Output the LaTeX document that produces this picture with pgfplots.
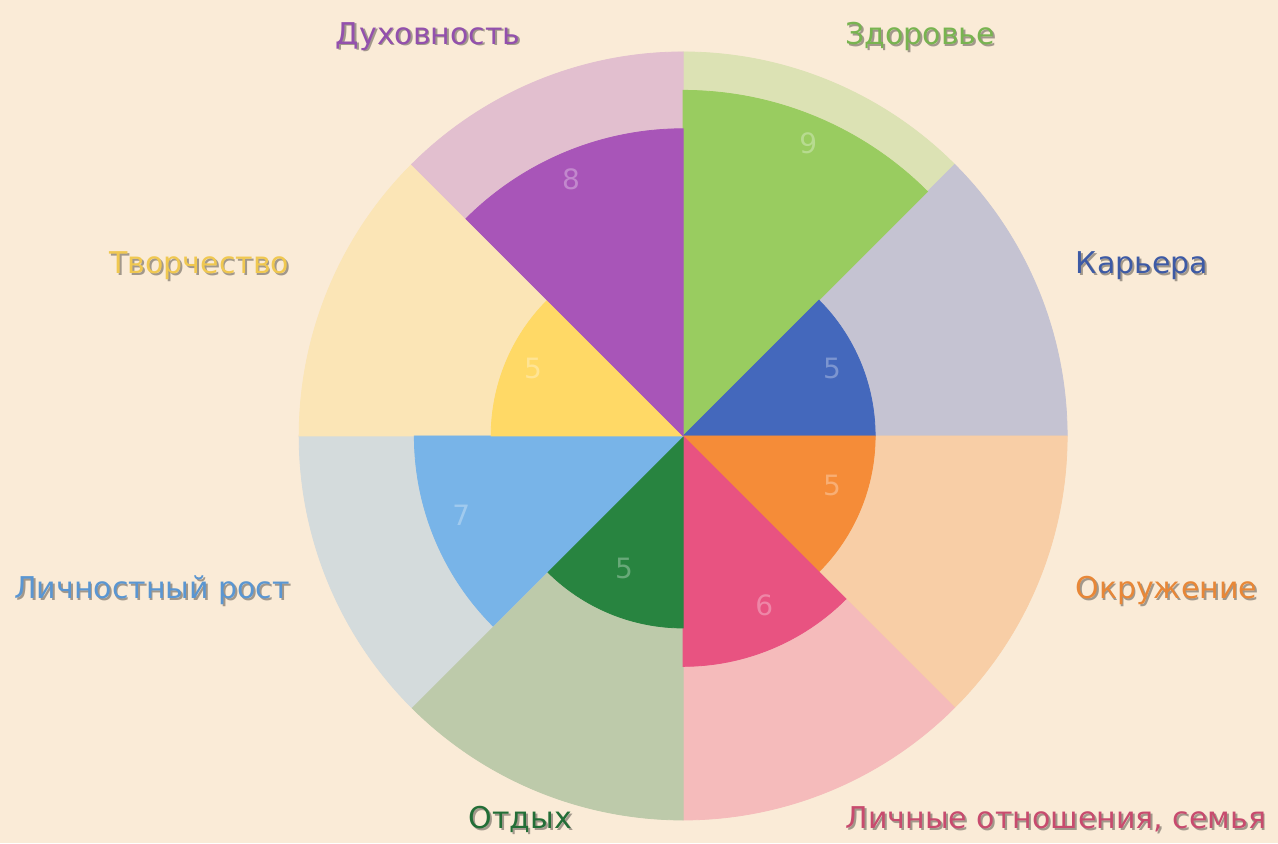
\documentclass[border=0pt]{standalone}
\usepackage{fontspec}
\setmainfont{DejaVu Sans}
\usepackage{pgfplots}
\usepackage{pgfplotstable}
\pgfplotsset{compat=1.18}
\definecolor{bg}{HTML}{FAEBD7}
\definecolor{c1}{HTML}{99CC60}\definecolor{l1}{HTML}{DCE2B4}
\definecolor{c2}{HTML}{4468BC}\definecolor{l2}{HTML}{C5C3D2}
\definecolor{c3}{HTML}{F58C38}\definecolor{l3}{HTML}{F8CEA6}
\definecolor{c4}{HTML}{E85381}\definecolor{l4}{HTML}{F5BBBB}
\definecolor{c5}{HTML}{288440}\definecolor{l5}{HTML}{BDCAAA}
\definecolor{c6}{HTML}{78B4E8}\definecolor{l6}{HTML}{D4DBDC}
\definecolor{c7}{HTML}{FFD966}\definecolor{l7}{HTML}{FBE5B6}
\definecolor{c8}{HTML}{A855B8}\definecolor{l8}{HTML}{E2BFCF}
\definecolor{tHealth}{HTML}{78B450}
\definecolor{tCareer}{HTML}{3D5AA5}
\definecolor{tEnv}{HTML}{E88737}
\definecolor{tFam}{HTML}{C84B6E}
\definecolor{tRest}{HTML}{236E37}
\definecolor{tGrow}{HTML}{5A96D2}
\definecolor{tCreat}{HTML}{F0C850}
\definecolor{tSpirit}{HTML}{9350AD}
\pgfdeclareplotmark{nothing}{}
% idx: 1 Здоровье, 2 Карьера, 3 Окружение, 4 Личные отношения, 5 Отдых, 6 Личностный рост, 7 Творчество, 8 Духовность
\pgfplotstableread{
x y idx start val full
0 0 1 45 9 10
0 0 2 0 5 10
0 0 3 -45 5 10
0 0 4 -90 6 10
0 0 5 -135 5 10
0 0 6 180 7 10
0 0 7 135 5 10
0 0 8 90 8 10
}\wheel
\pgfplotstableread{
x y lab
3.26 7.63 9
-2.92 6.69 8
3.88 1.77 5
-3.91 1.77 5
-5.78 -2.06 7
-1.54 -3.44 5
2.11 -4.40 6
3.88 -1.30 5
}\vals
\newcommand{\lab}[4]{%
  \node[text=black, text opacity=0.35, font=\fontsize{15}{18}\selectfont] at ([shift={(0.9pt,-0.9pt)}]axis cs:#1,#2) {#4};
  \node[text=#3, font=\fontsize{15}{18}\selectfont] at (axis cs:#1,#2) {#4};}
\begin{document}
\begin{tikzpicture}
\fill[bg] (0,0) rectangle (639pt,421.5pt);
\begin{axis}[at={(0,0)}, anchor=south west, x=19.2pt, y=19.2pt,
  xmin=-17.79, xmax=15.49, ymin=-10.60, ymax=11.35, hide axis, clip=false]
\addplot[scatter, only marks, mark=nothing, point meta=\thisrow{val},
  visualization depends on={\thisrow{start} \as \sa},
  visualization depends on={\thisrow{full} \as \rv},
  visualization depends on={\thisrow{idx} \as \ix},
  scatter/@pre marker code/.code={\pgfmathtruncatemacro\ii{\ix}\fill[l\ii] (0pt,0pt) -- (\sa:\rv*19.2pt) arc[start angle=\sa, delta angle=45, radius=\rv*19.2pt] -- cycle;},
  scatter/@post marker code/.code={}]
  table {\wheel};
\addplot[scatter, only marks, mark=nothing, point meta=\thisrow{val},
  visualization depends on={\thisrow{start} \as \sa},
  visualization depends on={\thisrow{val} \as \rv},
  visualization depends on={\thisrow{idx} \as \ix},
  scatter/@pre marker code/.code={\pgfmathtruncatemacro\ii{\ix}\fill[c\ii] (0pt,0pt) -- (\sa:\rv*19.2pt) arc[start angle=\sa, delta angle=45, radius=\rv*19.2pt] -- cycle;},
  scatter/@post marker code/.code={}]
  table {\wheel};
\addplot[only marks, mark=nothing, point meta=explicit symbolic, nodes near coords,
  every node near coord/.append style={font=\fontsize{14}{16}\selectfont, text=white, text opacity=0.3, anchor=center}]
  table[meta=lab] {\vals};
\lab{-6.64}{10.41}{tSpirit}{Духовность}
\lab{6.17}{10.41}{tHealth}{Здоровье}
\lab{11.95}{4.43}{tCareer}{Карьера}
\lab{-12.60}{4.43}{tCreat}{Творчество}
\lab{-13.83}{-4.03}{tGrow}{Личностный рост}
\lab{12.58}{-4.03}{tEnv}{Окружение}
\lab{-4.24}{-9.99}{tRest}{Отдых}
\lab{9.71}{-9.99}{tFam}{Личные отношения, семья}
\end{axis}
\pgfresetboundingbox
\useasboundingbox (0,0) rectangle (639pt,421.5pt);
\end{tikzpicture}
\end{document}
